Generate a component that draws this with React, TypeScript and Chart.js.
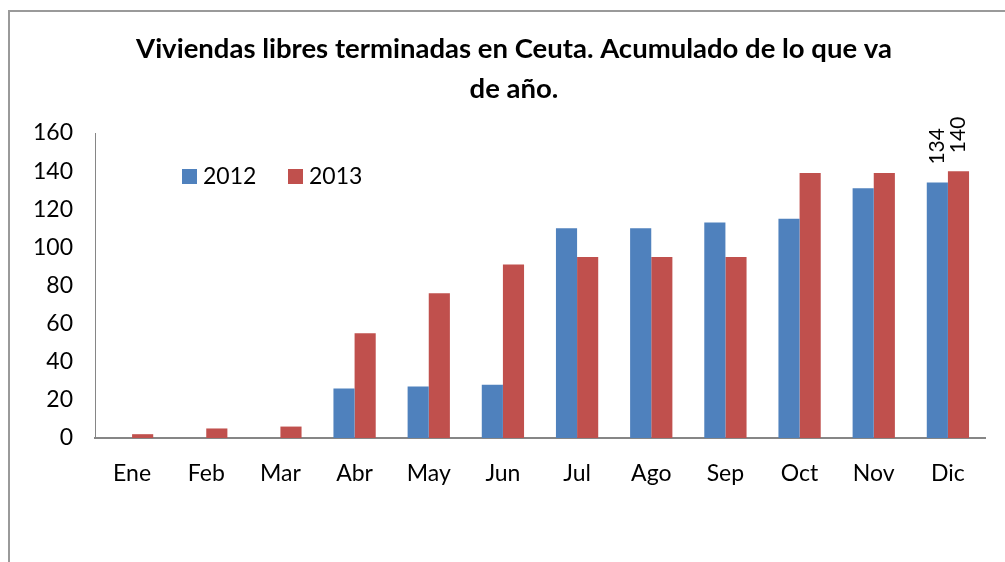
import React, { useEffect, useRef } from "react";
import { Chart, registerables } from "chart.js";

Chart.register(...registerables);

const categories = ["Ene", "Feb", "Mar", "Abr", "May", "Jun", "Jul", "Ago", "Sep", "Oct", "Nov", "Dic"];
const series2012 = [0, 0, 0, 26, 27, 28, 110, 110, 113, 115, 131, 134];
const series2013 = [2, 5, 6, 55, 76, 91, 95, 95, 95, 139, 139, 140];
const seriesLabels = ["2012", "2013"];
const seriesColors = ["#4F81BD", "#C0504D"];
const yTicks = [0, 20, 40, 60, 80, 100, 120, 140, 160];
const labeledCategories = ["Dic"];
const titleLines = ["Viviendas libres terminadas en Ceuta. Acumulado de lo que va", "de año."];

const FONT = "Lato, 'Open Sans', sans-serif";

const decorPlugin = {
  id: "decor",
  beforeDraw(chart: any) {
    const ctx = chart.ctx;
    ctx.save();
    ctx.fillStyle = "#ffffff";
    ctx.fillRect(0, 0, chart.width, chart.height);
    ctx.strokeStyle = "#9A9A9A";
    ctx.lineWidth = 2;
    ctx.strokeRect(9, 11, 1200, 800);
    ctx.restore();
  },
  afterDraw(chart: any) {
    const ctx = chart.ctx;
    ctx.save();
    // title
    ctx.fillStyle = "#000000";
    ctx.font = `bold 27.5px ${FONT}`;
    ctx.textAlign = "center";
    ctx.textBaseline = "middle";
    titleLines.forEach((line, i) => ctx.fillText(line, 514, 49 + i * 40));
    // legend
    const legendX = [182, 288];
    ctx.font = `23px ${FONT}`;
    ctx.textAlign = "left";
    chart.data.datasets.forEach((ds: any, i: number) => {
      ctx.fillStyle = ds.backgroundColor;
      ctx.fillRect(legendX[i], 169, 15, 15);
      ctx.fillStyle = "#000000";
      ctx.fillText(ds.label, legendX[i] + 21, 177);
    });
    // value labels (rotated)
    ctx.font = `21px ${FONT}`;
    chart.data.datasets.forEach((ds: any, di: number) => {
      const meta = chart.getDatasetMeta(di);
      chart.data.labels.forEach((lab: string, idx: number) => {
        if (!labeledCategories.includes(lab)) return;
        const el = meta.data[idx];
        ctx.save();
        ctx.translate(el.x, el.y - 18);
        ctx.rotate(-Math.PI / 2);
        ctx.textAlign = "left";
        ctx.textBaseline = "middle";
        ctx.fillStyle = "#000000";
        ctx.fillText(String(ds.data[idx]), 0, 0);
        ctx.restore();
      });
    });
    ctx.restore();
  },
};

export default function App() {
  const ref = useRef<HTMLCanvasElement>(null);
  useEffect(() => {
    if (!ref.current) return;
    const chart = new Chart(ref.current, {
      type: "bar",
      data: {
        labels: categories,
        datasets: [
          { label: seriesLabels[0], data: series2012, backgroundColor: seriesColors[0] },
          { label: seriesLabels[1], data: series2013, backgroundColor: seriesColors[1] },
        ],
      },
      options: {
        responsive: false,
        animation: false,
        devicePixelRatio: 1,
        layout: { padding: { top: 133, left: 0, right: 20, bottom: 0 } },
        datasets: { bar: { categoryPercentage: 0.57, barPercentage: 1.0 } },
        plugins: {
          legend: { display: false },
          title: { display: false },
          tooltip: { enabled: false },
        },
        scales: {
          x: {
            grid: { display: false, drawTicks: false },
            border: { color: "#868686", width: 2 },
            ticks: { color: "#000000", font: { family: FONT, size: 23 }, padding: 22, maxRotation: 0 },
            afterFit(scale: any) {
              scale.height = 124;
            },
          },
          y: {
            min: 0,
            max: 160,
            grid: { display: false, drawTicks: false },
            border: { color: "#868686", width: 1 },
            afterBuildTicks(scale: any) {
              scale.ticks = yTicks.map((v) => ({ value: v }));
            },
            ticks: { color: "#000000", font: { family: FONT, size: 23 }, padding: 22 },
            afterFit(scale: any) {
              scale.width = 95;
            },
          },
        },
      },
      plugins: [decorPlugin],
    });
    return () => chart.destroy();
  }, []);
  return (
    <canvas
      ref={ref}
      width={1005}
      height={562}
      style={{ position: "fixed", left: 0, top: 0, display: "block", width: 1005, height: 562 }}
    />
  );
}
